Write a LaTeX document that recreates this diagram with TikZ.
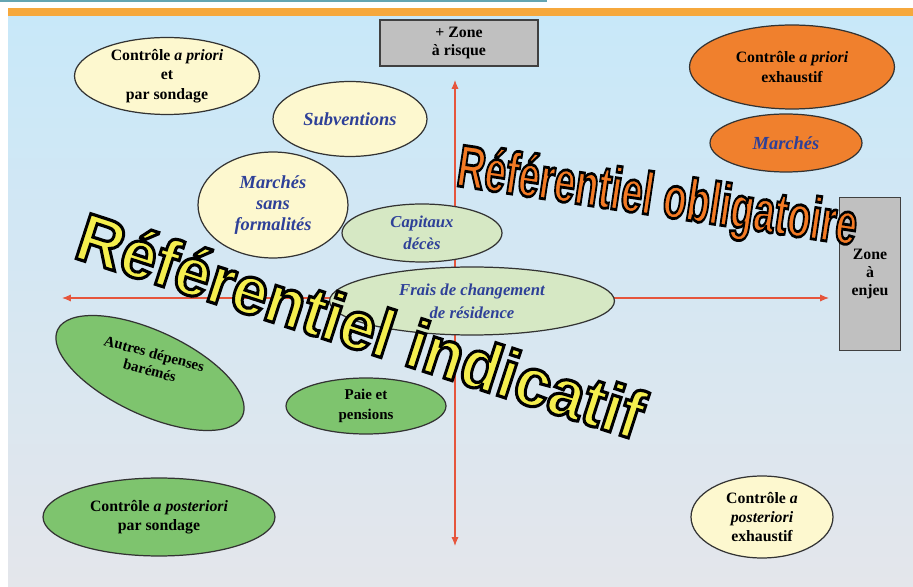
\documentclass[tikz,border=0pt]{standalone}
\usepackage{fontspec}
\setmainfont{Liberation Serif}
\newfontfamily\bigfont{Liberation Sans}
\usetikzlibrary{shapes.geometric, arrows.meta, positioning}
\definecolor{creme}{RGB}{253,248,207}
\definecolor{paleGreen}{RGB}{214,232,196}
\definecolor{midGreen}{RGB}{126,196,110}
\definecolor{orangeFill}{RGB}{240,128,45}
\definecolor{boxGrey}{RGB}{192,192,192}
\definecolor{textBlue}{RGB}{46,64,152}
\definecolor{axisRed}{RGB}{230,85,60}
\definecolor{skyTop}{RGB}{200,232,249}
\definecolor{skyBottom}{RGB}{228,230,235}
\definecolor{barOrange}{RGB}{246,168,60}
\definecolor{lineTeal}{RGB}{100,165,178}
\definecolor{bigOrange}{RGB}{243,122,36}
\definecolor{bigYellow}{RGB}{244,238,78}
% outlined text (fill + stroke)
\newcommand{\outlined}[2]{\special{pdf:code 2 Tr 0 0 0 RG #1 w}#2\special{pdf:code 0 Tr}}
\tikzset{
    bubble/.style={ellipse, draw=black!80, line width=0.7pt, align=center, inner sep=0pt, font=\bfseries\fontsize{9}{11}\selectfont},
    zonebox/.style={rectangle, draw=black!75, line width=0.8pt, fill=boxGrey, align=center, inner sep=0pt, font=\bfseries\fontsize{9}{10.5}\selectfont},
    axis/.style={axisRed, line width=0.6pt, {Latex[length=5pt,width=4pt]}-{Latex[length=5pt,width=4pt]}},
    bluetxt/.style={text=textBlue, font=\bfseries\itshape\fontsize{10.5}{12}\selectfont},
    bigtxt/.style={inner sep=0pt, font=\bigfont\bfseries\fontsize{34}{34}\selectfont}
}
\begin{document}
\begin{tikzpicture}[x=0.02cm, y=-0.02cm]
    \useasboundingbox (0,0) rectangle (913,587);

    % Background
    \fill[white] (0,0) rectangle (913,587);
    \shade[top color=skyTop, bottom color=skyBottom] (8,15) rectangle (913,587);
    \fill[barOrange] (8,8) rectangle (913,16);
    \fill[lineTeal] (0,0) rectangle (547,2);

    % Axes
    \coordinate (ytop) at (455,80);
    \coordinate (ybot) at (455,546);
    \coordinate (xleft) at (62,298);
    \coordinate (xright) at (829,298);
    \draw [axis] (ybot) -- (ytop);
    \draw [axis] (xleft) -- (xright);

    % Zones
    \node (risque) [zonebox, minimum width=3.16cm, minimum height=0.92cm] at (459,43) {+ Zone\\ à risque};
    \node (enjeu) [zonebox, minimum width=1.22cm, minimum height=3.06cm] at (870,274) {Zone\\ à\\ enjeu};

    % Ellipses
    \node (priori) [bubble, fill=creme, minimum width=3.7cm, minimum height=1.54cm] at (167,76) {Contrôle \textit{a priori}\\ et\\ par sondage};
    \node (subv) [bubble, bluetxt, fill=creme, minimum width=3.08cm, minimum height=1.5cm] at (350,119) {Subventions};
    \node (msf) [bubble, bluetxt, fill=creme, minimum width=3.0cm, minimum height=2.12cm] at (273,205) {Marchés\\ sans\\ formalités};
    \node (capit) [bubble, bluetxt, fill=paleGreen, minimum width=3.2cm, minimum height=1.16cm, font=\bfseries\itshape\fontsize{9.5}{12.5}\selectfont] at (422,233) {Capitaux\\ décès};
    \node (frais) [bubble, bluetxt, fill=paleGreen, minimum width=5.7cm, minimum height=1.36cm, font=\bfseries\itshape\fontsize{9.5}{13}\selectfont] at (472,301) {Frais de changement\\ de résidence};
    \node (autres) [bubble, fill=midGreen, rotate=-25, minimum width=4.08cm, minimum height=1.68cm] at (150,373) {};
    \node (autresTxt) [rotate=-15, align=center, inner sep=0pt, font=\bfseries\fontsize{8.5}{10}\selectfont] at (152,362) {Autres dépenses\\ barémés};
    \node (paie) [bubble, fill=midGreen, minimum width=3.2cm, minimum height=1.12cm, font=\bfseries\fontsize{8.5}{11}\selectfont] at (366,406) {Paie et\\ pensions};
    \node (postsond) [bubble, fill=midGreen, minimum width=4.64cm, minimum height=1.56cm] at (159,517) {Contrôle \textit{a posteriori}\\ par sondage};
    \node (postexh) [bubble, fill=creme, minimum width=2.84cm, minimum height=1.64cm] at (762,517) {Contrôle \textit{a}\\ \textit{posteriori}\\ exhaustif};
    \node (prioexh) [bubble, fill=orangeFill, minimum width=4.1cm, minimum height=1.68cm] at (792,67) {Contrôle \textit{a priori}\\ exhaustif};
    \node (marches) [bubble, bluetxt, fill=orangeFill, minimum width=3.04cm, minimum height=1.16cm] at (786,143) {Marchés};

    % Referentiels
    \node (roTitle) [bigtxt, text=bigOrange, rotate=-8.5] at (657,200) {\scalebox{0.64}[1]{\outlined{1.6}{Référentiel obligatoire}}};
    \node (riTitle) [bigtxt, text=bigYellow, rotate=-18, font=\bigfont\bfseries\fontsize{39}{39}\selectfont] at (361,325) {\scalebox{0.93}[1]{\outlined{1.8}{Référentiel indicatif}}};

\end{tikzpicture}
\end{document}
